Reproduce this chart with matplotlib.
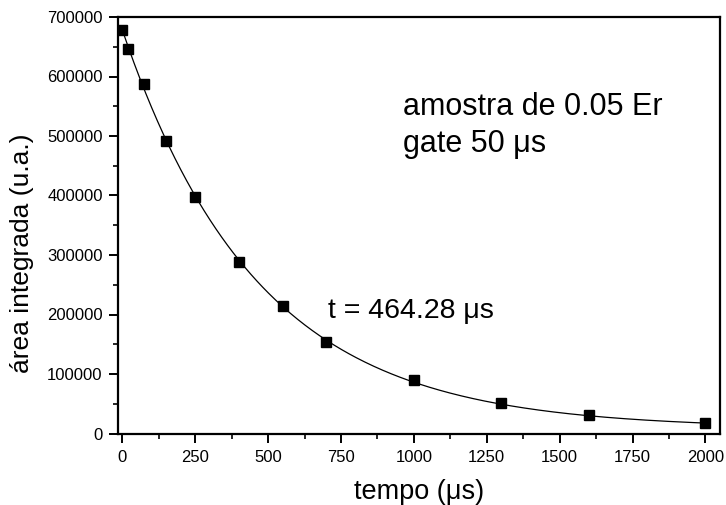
import numpy as np
import matplotlib
matplotlib.use("Agg")
import matplotlib.pyplot as plt
from matplotlib.ticker import MultipleLocator

plt.rcParams['font.family'] = ['Liberation Sans', 'DejaVu Sans']

# measured integrated area vs. delay time
tempo = [0, 20, 75, 150, 250, 400, 550, 700, 1000, 1300, 1600, 2000]
area = [678000, 645600, 588000, 491000, 397000, 288000, 214700, 153000,
        90300, 51100, 30300, 17500]

# single-exponential decay fit: y = y0 + A * exp(-t / tau)
tau = 464.28
fit_y0 = 8500
fit_A = 669500

x_ticks = [0, 250, 500, 750, 1000, 1250, 1500, 1750, 2000]
y_ticks = [0, 100000, 200000, 300000, 400000, 500000, 600000, 700000]

W, H = 726, 505
fig = plt.figure(figsize=(W / 100, H / 100), dpi=100)
ax = fig.add_axes([118 / W, 1 - 433.5 / H, 602 / W, 416.5 / H])

t_fit = np.linspace(tempo[0], tempo[-1], 400)
ax.plot(t_fit, fit_y0 + fit_A * np.exp(-t_fit / tau), color='black', lw=0.9)
ax.plot(tempo, area, linestyle='none', marker='s', markersize=7,
        color='black')

ax.set_xlim(-15, 2050)
ax.set_ylim(0, 700000)
ax.set_xticks(x_ticks)
ax.set_yticks(y_ticks)
ax.xaxis.set_minor_locator(MultipleLocator(125))
ax.yaxis.set_minor_locator(MultipleLocator(50000))
ax.set_xticklabels([str(v) for v in x_ticks])
ax.set_yticklabels([str(v) for v in y_ticks])

for s in ax.spines.values():
    s.set_linewidth(1.6)
ax.tick_params(which='major', direction='out', length=6.5, width=1.4,
               labelsize=12)
ax.tick_params(axis='x', which='major', pad=5.5)
ax.tick_params(axis='y', which='major', pad=4.5)
ax.tick_params(which='minor', direction='out', length=3.5, width=1.2)

ax.set_xlabel('tempo (\u03bcs)', fontsize=19.5)
ax.xaxis.label.set_va('baseline')
ax.xaxis.set_label_coords(0.5, (433.5 - 499) / 416.5)

ax.set_ylabel('\u00e1rea integrada (u.a.)', fontsize=19)
ax.yaxis.label.set_va('center')
ax.yaxis.set_label_coords((22 - 118) / 602, (433.5 - 253) / 416.5)

fig.text(403 / W, 1 - 115 / H, 'amostra de 0.05 Er', fontsize=22)
fig.text(403 / W, 1 - 152 / H, 'gate 50 \u03bcs', fontsize=22)
fig.text(328 / W, 1 - 318 / H, 't = 464.28 \u03bcs', fontsize=20.5)

fig.savefig('out.png', dpi=100)
